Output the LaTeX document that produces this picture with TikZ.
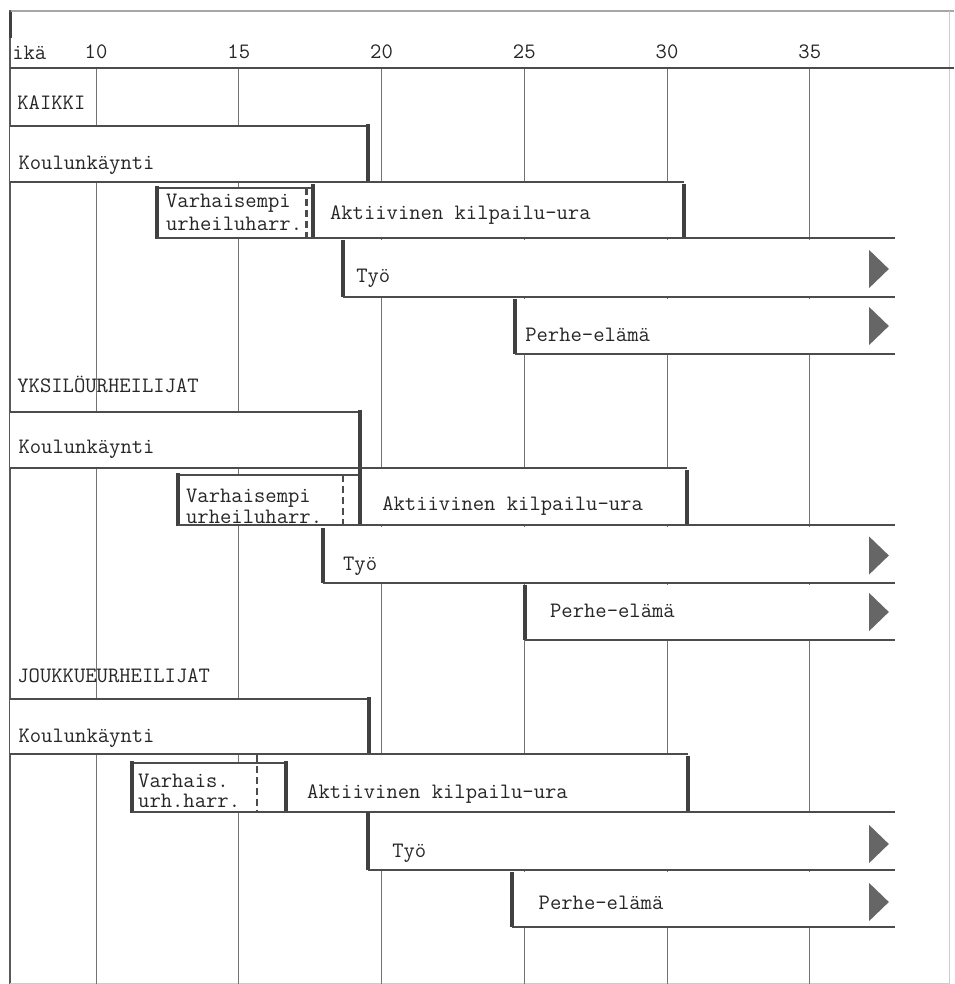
\documentclass[tikz,border=0pt]{standalone}
\tikzset{
  gridline/.style={draw=black!55, line width=1pt},
  frameline/.style={draw=black!65, line width=2pt},
  barline/.style={draw=black!70, line width=2.4pt},
  bracket/.style={draw=black!75, line width=3.6pt},
  dashbar/.style={draw=black!70, line width=2.6pt, dash pattern=on 7pt off 4pt},
  tip/.style={fill=black!60},
  lbl/.style={font=\ttfamily\fontsize{22}{24}\selectfont, text=black!85, inner sep=0pt, anchor=base west},
  num/.style={lbl, anchor=base},
}
\begin{document}
\begin{tikzpicture}[x=28.55pt, y=-1pt]
	\useasboundingbox (6.6375,0) rectangle (40.053,984);
	
	% frame and age scale
	\draw[frameline, draw=black!35] (7,11) -- (40.053,11);
	\draw[frameline] (7,10) -- (7,984);
	\draw[bracket] (7,12) -- (7,38);
	\draw[gridline, draw=black!20] (39.9,11) -- (39.9,983) -- (7,983);
	\foreach \a in {10,15,...,35}
	{
		\draw[gridline] (\a,68) -- (\a,984);
		\node[num] (n\a) at (\a,59) {\a};
	}
	\draw[barline] (7,68) -- (40.053,68);
	\node[lbl] (ika) at (7.06,60) {ikä};
	
	% KAIKKI
	\fill[white] (7,126) rectangle (19.53,182);
	\fill[white] (12.14,188) rectangle (17.6,238);
	\fill[white] (17.6,182) rectangle (30.59,238);
	\fill[white] (18.65,240) rectangle (38,297);
	\fill[white] (24.68,299) rectangle (38,354);
	\draw[barline] (7,126) -- (19.53,126);
	\draw[bracket] (19.53,124) -- (19.53,182);
	\draw[barline] (7,182) -- (30.59,182);
	\draw[barline] (12.14,188) -- (17.6,188);
	\draw[bracket] (12.14,186) -- (12.14,239);
	\draw[dashbar] (17.38,188) -- (17.38,238);
	\draw[bracket] (17.6,184) -- (17.6,238);
	\draw[bracket] (30.59,184) -- (30.59,239);
	\draw[barline] (12.14,238) -- (38,238);
	\draw[bracket] (18.65,240) -- (18.65,297);
	\draw[barline] (18.65,297) -- (38,297);
	\draw[bracket] (24.68,299) -- (24.68,354);
	\draw[barline] (24.68,354) -- (38,354);
	\node[lbl] (kaikki) at (7.24,110) {KAIKKI};
	\node[lbl] (kKoulu) at (7.28,170) {Koulunkäynti};
	\node[lbl] (kVarhA) at (12.45,208) {Varhaisempi};
	\node[lbl] (kVarhB) at (12.45,231) {urheiluharr.};
	\node[lbl] (kAkt) at (18.19,220) {Aktiivinen kilpailu-ura};
	\node[lbl] (kTyo) at (19.11,282) {Työ};
	\node[lbl] (kPerhe) at (25.03,341) {Perhe-elämä};
	
	% YKSILOURHEILIJAT
	\fill[white] (7,412) rectangle (19.25,468);
	\fill[white] (12.87,475) rectangle (19.25,525);
	\fill[white] (19.25,468) rectangle (30.70,525);
	\fill[white] (17.95,527) rectangle (38,583);
	\fill[white] (25.03,585) rectangle (38,640);
	\draw[barline] (7,412) -- (19.25,412);
	\draw[bracket] (19.25,410) -- (19.25,468);
	\draw[barline] (7,468) -- (30.70,468);
	\draw[barline] (12.87,475) -- (19.25,475);
	\draw[bracket] (12.87,473) -- (12.87,526);
	\draw[dashbar] (18.65,475) -- (18.65,525);
	\draw[bracket] (19.25,468) -- (19.25,525);
	\draw[bracket] (30.70,470) -- (30.70,526);
	\draw[barline] (12.87,525) -- (38,525);
	\draw[bracket] (17.95,528) -- (17.95,583);
	\draw[barline] (17.95,583) -- (38,583);
	\draw[bracket] (25.03,585) -- (25.03,640);
	\draw[barline] (25.03,640) -- (38,640);
	\node[lbl] (yksilo) at (7.24,392) {YKSILÖURHEILIJAT};
	\node[lbl] (yKoulu) at (7.28,453) {Koulunkäynti};
	\node[lbl] (yVarhA) at (13.15,502) {Varhaisempi};
	\node[lbl] (yVarhB) at (13.15,523) {urheiluharr.};
	\node[lbl] (yAkt) at (20.02,510) {Aktiivinen kilpailu-ura};
	\node[lbl] (yTyo) at (18.65,570) {Työ};
	\node[lbl] (yPerhe) at (25.9,617) {Perhe-elämä};
	
	% JOUKKUEURHEILIJAT
	\fill[white] (7,699) rectangle (19.56,754);
	\fill[white] (11.26,763) rectangle (16.66,812);
	\fill[white] (16.66,754) rectangle (30.74,812);
	\fill[white] (19.53,812) rectangle (38,870);
	\fill[white] (24.57,872) rectangle (38,927);
	\draw[barline] (7,699) -- (19.56,699);
	\draw[bracket] (19.56,697) -- (19.56,754);
	\draw[barline] (7,754) -- (30.74,754);
	\draw[barline] (11.26,763) -- (16.66,763);
	\draw[bracket] (11.26,761) -- (11.26,813);
	\draw[dashbar] (15.64,755) -- (15.64,812);
	\draw[bracket] (16.66,761) -- (16.66,812);
	\draw[bracket] (30.74,756) -- (30.74,813);
	\draw[barline] (11.26,812) -- (38,812);
	\draw[bracket] (19.53,812) -- (19.53,870);
	\draw[barline] (19.53,870) -- (38,870);
	\draw[bracket] (24.57,872) -- (24.57,927);
	\draw[barline] (24.57,927) -- (38,927);
	\node[lbl] (joukku) at (7.24,682) {JOUKKUEURHEILIJAT};
	\node[lbl] (jKoulu) at (7.28,742) {Koulunkäynti};
	\node[lbl] (jVarhA) at (11.47,787) {Varhais.};
	\node[lbl] (jVarhB) at (11.47,807) {urh.harr.};
	\node[lbl] (jAkt) at (17.39,798) {Aktiivinen kilpailu-ura};
	\node[lbl] (jTyo) at (20.37,857) {Työ};
	\node[lbl] (jPerhe) at (25.5,909) {Perhe-elämä};
	
	% jatkuu
	\foreach \c in {269,326,555.5,612,844,902}
	{
		\fill[tip] (37.08,{\c-19}) -- (37.77,\c) -- (37.08,{\c+19}) -- cycle;
	}
\end{tikzpicture}
\end{document}
